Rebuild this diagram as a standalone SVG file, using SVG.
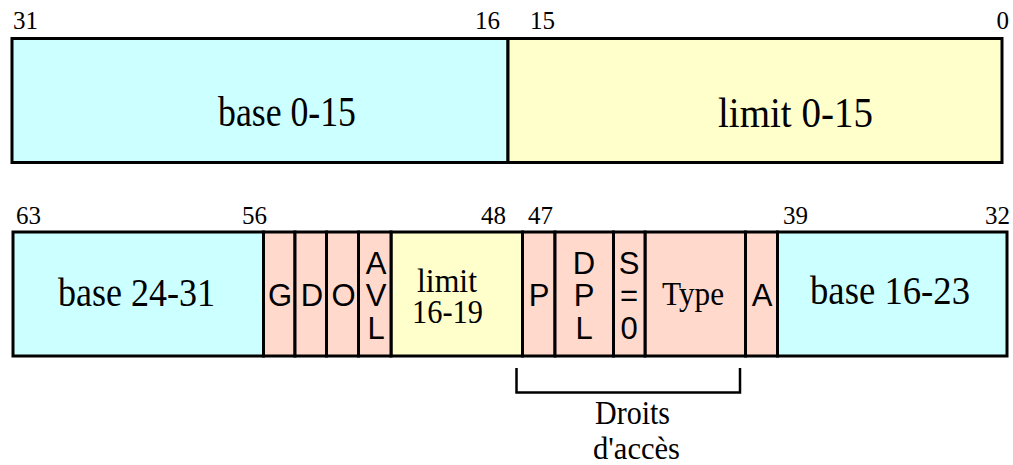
<svg xmlns="http://www.w3.org/2000/svg" width="1013" height="465" viewBox="0 0 1013 465">
<style>
.box{stroke:#000;stroke-width:3}
.cy{fill:#CCFFFF}.ye{fill:#FFFFCC}.pk{fill:#FFD9CC}
.con{fill:none;stroke:#000;stroke-width:2.5}
</style>
<rect width="1013" height="465" fill="#fff"/>
<g id="labels" font-family="'Liberation Serif', 'Times New Roman', serif" font-size="25" fill="#000">
<text x="13" y="29">31</text>
<text x="500" y="29" text-anchor="end">16</text>
<text x="530" y="29">15</text>
<text x="1009" y="29" text-anchor="end">0</text>
<text x="16" y="224">63</text>
<text x="267" y="224" text-anchor="end">56</text>
<text x="506" y="224" text-anchor="end">48</text>
<text x="528" y="224">47</text>
<text x="783" y="224">39</text>
<text x="1010" y="224" text-anchor="end">32</text>
</g>
<g font-family="'Liberation Serif', 'Times New Roman', serif" text-anchor="middle" fill="#000">
<g id="base0-15">
<rect class="box cy" x="12" y="38.5" width="496" height="124"/>
<text x="287" y="126" font-size="42" textLength="138" lengthAdjust="spacingAndGlyphs">base 0-15</text>
</g>
<g id="limit0-15">
<rect class="box ye" x="508" y="38.5" width="494" height="124"/>
<text x="795.5" y="127" font-size="42" textLength="155" lengthAdjust="spacingAndGlyphs">limit 0-15</text>
</g>
<g id="base24-31">
<rect class="box cy" x="13" y="232" width="250.5" height="124"/>
<text x="136.5" y="306" font-size="40" textLength="157" lengthAdjust="spacingAndGlyphs">base 24-31</text>
</g>
<g id="limit16-19">
<rect class="box ye" x="391" y="232" width="131.5" height="124"/>
<text x="447" y="292" font-size="33" textLength="60" lengthAdjust="spacingAndGlyphs">limit</text>
<text x="447.5" y="323" font-size="33" textLength="71" lengthAdjust="spacingAndGlyphs">16-19</text>
</g>
<g id="Type">
<rect class="box pk" x="645" y="232" width="100.5" height="124"/>
<text x="693" y="305" font-size="34" textLength="62" lengthAdjust="spacingAndGlyphs">Type</text>
</g>
<g id="base16-23">
<rect class="box cy" x="777.5" y="232" width="229.5" height="124"/>
<text x="890" y="304" font-size="40" textLength="160" lengthAdjust="spacingAndGlyphs">base 16-23</text>
</g>
<g id="droits">
<text x="632.5" y="424" font-size="33" textLength="75" lengthAdjust="spacingAndGlyphs">Droits</text>
<text x="636.5" y="459" font-size="32" textLength="87" lengthAdjust="spacingAndGlyphs">d'accès</text>
</g>
</g>
<g font-family="'Liberation Sans', Arial, sans-serif" font-size="31" text-anchor="middle" fill="#000">
<g id="G">
<rect class="box pk" x="263.5" y="232" width="31.5" height="124"/>
<text x="280" y="306">G</text>
</g>
<g id="D">
<rect class="box pk" x="295" y="232" width="31.5" height="124"/>
<text x="312" y="306">D</text>
</g>
<g id="O">
<rect class="box pk" x="326.5" y="232" width="32" height="124"/>
<text x="343.5" y="306">O</text>
</g>
<g id="AVL">
<rect class="box pk" x="358.5" y="232" width="32.5" height="124"/>
<text x="376" y="274">A</text>
<text x="376" y="306">V</text>
<text x="376" y="339">L</text>
</g>
<g id="P">
<rect class="box pk" x="522.5" y="232" width="32.5" height="124"/>
<text x="539" y="306">P</text>
</g>
<g id="DPL">
<rect class="box pk" x="555" y="232" width="58.5" height="124"/>
<text x="584" y="274">D</text>
<text x="584" y="306">P</text>
<text x="584" y="339">L</text>
</g>
<g id="S0">
<rect class="box pk" x="613.5" y="232" width="31.5" height="124"/>
<text x="629" y="274">S</text>
<text x="629" y="306">=</text>
<text x="629" y="339">0</text>
</g>
<g id="A">
<rect class="box pk" x="745.5" y="232" width="32" height="124"/>
<text x="762" y="306">A</text>
</g>
</g>
<g id="connectors">
<path class="con" d="M516.5 368 V392.5 H740 V368"/>
</g>
</svg>
